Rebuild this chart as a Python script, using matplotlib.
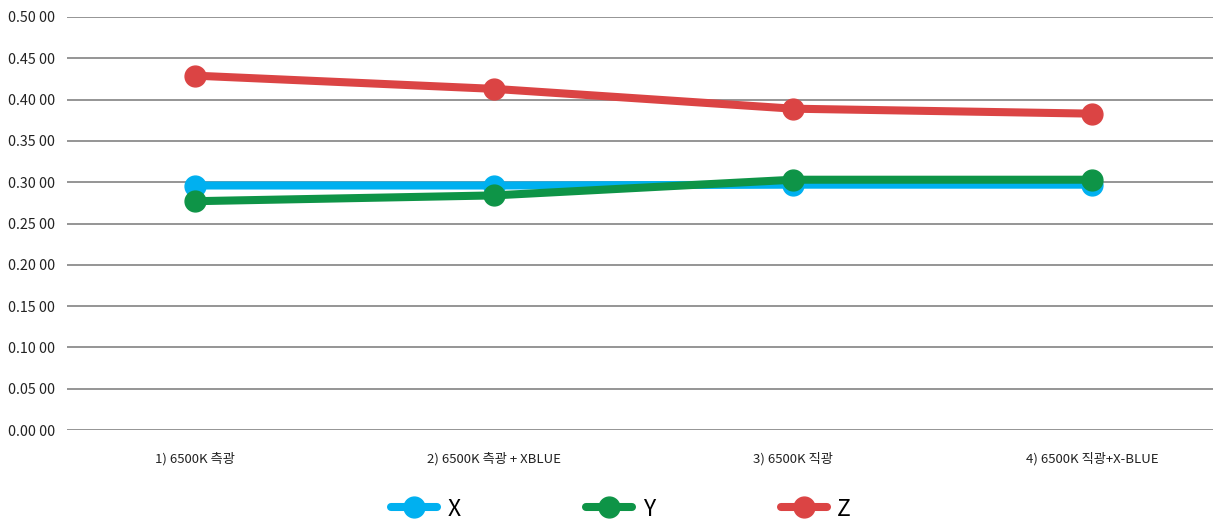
import matplotlib
matplotlib.use("Agg")
import matplotlib.pyplot as plt
from matplotlib.ticker import FixedLocator, FixedFormatter

plt.rcParams['font.family'] = ['Noto Sans CJK KR', 'DejaVu Sans']

categories = ["1) 6500K 측광", "2) 6500K 측광 + XBLUE", "3) 6500K 직광", "4) 6500K 직광+X-BLUE"]
x_vals = [0.296, 0.296, 0.297, 0.297]
y_vals = [0.277, 0.284, 0.303, 0.303]
z_vals = [0.429, 0.413, 0.389, 0.383]
series_names = ["X", "Y", "Z"]
colors = ["#00b0f0", "#0e9447", "#db4444"]
y_ticks = [0.0, 0.05, 0.10, 0.15, 0.20, 0.25, 0.30, 0.35, 0.40, 0.45, 0.50]
y_tick_labels = ["0.00 00", "0.05 00", "0.10 00", "0.15 00", "0.20 00", "0.25 00",
                 "0.30 00", "0.35 00", "0.40 00", "0.45 00", "0.50 00"]

W, H = 1213, 519
fig = plt.figure(figsize=(W / 100, H / 100), dpi=100)
left, right, top, bottom = 67, 1213, 17, 430
ax = fig.add_axes([left / W, 1 - bottom / H, (right - left) / W, (bottom - top) / H])

xs = list(range(len(categories)))
for name, vals, c in zip(series_names, [x_vals, y_vals, z_vals], colors):
    ax.plot(xs, vals, color=c, lw=5.8, marker='o', ms=15, solid_capstyle='round',
            label=name, zorder=3)

ax.set_ylim(0, 0.5)
ax.set_xlim((left - 195) / 299, (right - 195) / 299)
ax.yaxis.set_major_locator(FixedLocator(y_ticks))
ax.yaxis.set_major_formatter(FixedFormatter(y_tick_labels))
ax.set_xticks(xs)
ax.set_xticklabels(categories)
ax.grid(axis='y', color='#8c8c8c', lw=1.3)
ax.set_axisbelow(True)
for s in ax.spines.values():
    s.set_visible(False)
ax.tick_params(axis='both', length=0, colors='#222222')
ax.tick_params(axis='y', pad=8.5, labelsize=10.3)
ax.tick_params(axis='x', pad=16, labelsize=9.5)

leg = fig.legend(loc='center', bbox_to_anchor=(621 / W, 1 - 509 / H), ncol=3, frameon=False,
                 fontsize=16.5, handlelength=2.0, columnspacing=5.5, handletextpad=0.45)

fig.savefig("out.png", dpi=100)
